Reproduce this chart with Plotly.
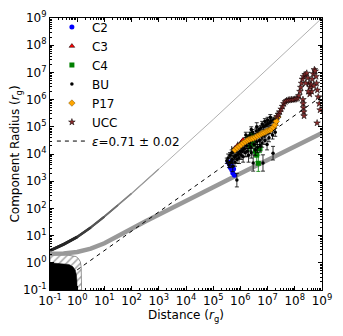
import numpy as np
import plotly.graph_objects as go

# ---- data (log10 of distance / radius in r_g) ----
c2_logx = [5.55, 5.60, 5.63, 5.66, 5.68, 5.70, 5.72, 5.75, 5.78]
c2_logy = [3.70, 3.62, 3.50, 3.72, 3.42, 3.55, 3.30, 3.45, 3.22]

c3_logx = [5.80, 5.88, 5.95, 6.00, 6.05, 6.10]
c3_logy = [4.22, 4.30, 4.25, 4.38, 4.45, 4.52]
c3_xerr = [0.12, 0.00, 0.00, 0.10, 0.00, 0.00]

c4_logx = [6.29, 6.35, 6.41, 6.47, 6.55, 6.60, 6.66, 6.72]
c4_logy = [4.58, 4.27, 4.70, 4.39, 4.10, 3.96, 3.66, 4.20]
c4_yerr = [0.10, 0.15, 0.10, 0.12, 0.20, 0.25, 0.30, 0.15]

bu_logx = [5.50, 5.55, 5.58, 5.62, 5.65, 5.68, 5.70, 5.72, 5.75, 5.78, 5.80, 5.83,
           5.85, 5.87, 5.88, 5.90, 5.93, 5.95, 5.98, 6.00, 6.03, 6.05, 6.08, 6.10,
           6.13, 6.15, 6.18, 6.20, 6.23, 6.25, 6.28, 6.30, 6.33, 6.35, 6.38, 6.40,
           6.43, 6.45, 6.47, 6.50, 6.53, 6.55, 6.58, 6.60, 6.63, 6.65, 6.68, 6.70,
           6.73, 6.75, 6.78, 6.80, 6.83, 6.85, 6.88, 6.90, 6.93, 6.95, 6.98, 7.00,
           7.03, 7.05, 7.08, 7.10, 7.13, 7.15, 7.18, 7.20, 7.22, 7.25, 7.28, 7.30,
           7.33, 7.36, 7.40, 6.20, 6.40, 6.60, 6.80, 6.90, 7.00, 7.10]
bu_logy = [3.75, 3.85, 3.60, 3.95, 3.70, 4.05, 3.80, 3.55, 4.10, 3.90, 3.70, 4.15,
           3.95, 3.04, 3.80, 4.20, 4.00, 3.85, 4.30, 4.10, 3.95, 4.35, 4.15, 3.90,
           4.40, 4.20, 4.05, 4.50, 4.30, 4.10, 4.60, 3.95, 4.40, 4.70, 4.25, 4.05,
           4.55, 4.80, 3.67, 4.35, 4.65, 4.15, 4.85, 4.45, 4.25, 4.75, 4.90, 4.50,
           4.30, 4.95, 4.65, 4.40, 3.67, 5.00, 4.70, 4.50, 5.05, 4.80, 4.35, 5.10,
           4.90, 4.60, 5.15, 4.85, 5.20, 4.95, 4.70, 4.03, 5.25, 5.05, 4.80, 5.30,
           5.15, 5.40, 5.45, 4.70, 4.90, 5.00, 5.10, 5.20, 5.25, 5.35]
bu_yerr = [0.10, 0.15, 0.10, 0.10, 0.20, 0.10, 0.15, 0.20, 0.10, 0.10, 0.15, 0.10,
           0.10, 0.25, 0.15, 0.10, 0.10, 0.20, 0.10, 0.10, 0.15, 0.10, 0.10, 0.20,
           0.10, 0.10, 0.15, 0.10, 0.10, 0.20, 0.10, 0.25, 0.10, 0.10, 0.15, 0.20,
           0.10, 0.10, 0.30, 0.15, 0.10, 0.20, 0.10, 0.10, 0.20, 0.10, 0.10, 0.15,
           0.20, 0.10, 0.10, 0.15, 0.30, 0.10, 0.10, 0.15, 0.10, 0.10, 0.20, 0.10,
           0.10, 0.15, 0.10, 0.10, 0.10, 0.10, 0.15, 0.25, 0.10, 0.10, 0.15, 0.10,
           0.10, 0.10, 0.10, 0.10, 0.10, 0.15, 0.10, 0.10, 0.10, 0.10]

p17_logx = [5.80, 5.88, 5.95, 6.02, 6.10, 6.18, 6.25, 6.32, 6.40, 6.47, 6.55, 6.62,
            6.70, 6.77, 6.83, 6.90, 6.97, 7.03, 7.09, 7.15, 7.21, 7.27, 7.32, 7.38]
p17_logy = [4.15, 4.22, 4.28, 4.33, 4.40, 4.45, 4.50, 4.53, 4.56, 4.58, 4.62, 4.66,
            4.70, 4.74, 4.77, 4.80, 4.84, 4.86, 4.88, 4.92, 4.98, 5.07, 5.20, 5.36]

ucc_logx = [7.35, 7.40, 7.45, 7.50, 7.55, 7.60, 7.65, 7.70, 7.76, 7.82, 7.88, 7.94,
            8.00, 8.05, 8.10, 8.15, 8.19, 8.22, 8.25, 8.28, 8.32, 8.38, 8.44, 8.48,
            8.52, 8.56, 8.60, 8.64, 8.68, 8.72, 8.75, 8.78, 8.80, 8.83, 8.86, 8.90,
            8.93, 8.30, 8.31, 8.32, 8.33, 8.34, 8.55, 8.62, 8.70, 8.82, 8.50, 8.40]
ucc_logy = [5.37, 5.45, 5.55, 5.65, 5.75, 5.85, 5.92, 5.96, 5.98, 5.99, 6.00, 6.00,
            6.01, 6.03, 6.05, 6.15, 6.30, 6.45, 6.60, 6.75, 6.85, 6.92, 6.97, 6.80,
            6.60, 6.45, 6.55, 6.75, 6.95, 7.10, 7.05, 6.85, 6.60, 6.35, 6.10, 5.85,
            5.62, 6.00, 5.85, 5.70, 5.55, 5.40, 6.20, 6.30, 6.50, 5.14, 6.30, 6.60]

# fitted power law, epsilon = 0.71 (end points)
fit_x = [1.0, 1.0e9]
fit_y = [0.55, 1.35e6]

# thin curve (darker near the black hole)
thin_logx = [-1.0, -0.5, 0.0, 0.5, 1.0, 1.5, 2.0, 3.0, 4.0, 5.0, 6.0, 7.0, 8.0, 9.0]
thin_logy = [0.45, 0.68, 0.95, 1.30, 1.70, 2.12, 2.55, 3.45, 4.35, 5.27, 6.20, 7.13, 8.07, 9.00]

# thick grey curve
thick_logx = [-1.0, -0.5, 0.0, 0.5, 1.0, 1.5, 2.0, 2.5, 3.0, 4.0, 5.0, 6.0, 7.0, 8.0, 9.0]
thick_logy = [0.33, 0.34, 0.40, 0.52, 0.72, 0.97, 1.25, 1.52, 1.78, 2.28, 2.78, 3.28, 3.78, 4.28, 4.77]

# black hole and hatched (ergosphere) outlines
bh_x = [0.1, 0.1, 0.5, 0.7, 0.85, 0.93, 0.97, 0.99, 1.0, 0.1]
bh_y = [0.1, 1.0, 0.87, 0.71, 0.53, 0.37, 0.24, 0.14, 0.1, 0.1]
ergo_x = [0.1, 0.1, 0.4, 0.7, 0.9, 1.1, 1.3, 1.4, 1.44, 1.45, 0.1]
ergo_y = [0.1, 2.0, 1.95, 1.85, 1.7, 1.45, 1.1, 0.7, 0.35, 0.1, 0.1]


def p10(a):
    return np.power(10.0, np.asarray(a, dtype=float))


def dex_err(logy, dex):
    y = p10(logy)
    d = np.asarray(dex, dtype=float)
    return y * (np.power(10.0, d) - 1), y * (1 - np.power(10.0, -d))


fig = go.Figure()

fig.add_trace(go.Scatter(
    x=ergo_x, y=ergo_y, mode="lines", fill="toself", line=dict(color="#777", width=0.8),
    fillcolor="white",
    fillpattern=dict(shape="/", fgcolor="#555", bgcolor="white", size=5, solidity=0.3),
    showlegend=False, hoverinfo="skip"))
fig.add_trace(go.Scatter(
    x=bh_x, y=bh_y, mode="lines", fill="toself", line=dict(color="black", width=0.5),
    fillcolor="black", showlegend=False, hoverinfo="skip"))

# thin curve, darker and wider close to the black hole
tx, ty = p10(thin_logx), p10(thin_logy)
fade = [(14, "#b0b0b0", 1.0), (8, "#999999", 1.2), (7, "#858585", 1.5), (6, "#6e6e6e", 1.8),
        (5, "#555555", 2.2), (4, "#3c3c3c", 2.6), (3, "#262626", 3.0)]
for n, col, w in fade:
    fig.add_trace(go.Scatter(x=tx[:n], y=ty[:n], mode="lines", line=dict(color=col, width=w),
                             showlegend=False, hoverinfo="skip"))

fig.add_trace(go.Scatter(x=p10(thick_logx), y=p10(thick_logy), mode="lines",
                         line=dict(color="#999999", width=4.5), showlegend=False, hoverinfo="skip"))

# data
bu_up, bu_dn = dex_err(bu_logy, bu_yerr)
c4_up, c4_dn = dex_err(c4_logy, c4_yerr)
c3x = p10(c3_logx)
c3_xup = c3x * (p10(c3_xerr) - 1)
c3_xdn = c3x * (1 - p10(-np.asarray(c3_xerr)))

fig.add_trace(go.Scatter(
    x=p10(c2_logx), y=p10(c2_logy), mode="markers", name="C2",
    marker=dict(symbol="circle", color="#0000ff", size=5, line=dict(width=0))))
fig.add_trace(go.Scatter(
    x=c3x, y=p10(c3_logy), mode="markers", name="C3",
    error_x=dict(type="data", array=c3_xup, arrayminus=c3_xdn, color="black", thickness=0.8, width=2),
    marker=dict(symbol="triangle-up", color="#ff0000", size=5, line=dict(width=0.5, color="black"))))
fig.add_trace(go.Scatter(
    x=p10(c4_logx), y=p10(c4_logy), mode="markers", name="C4",
    error_y=dict(type="data", array=c4_up, arrayminus=c4_dn, color="#008000", thickness=0.8, width=2),
    marker=dict(symbol="square", color="#008000", size=5, line=dict(width=0))))
fig.add_trace(go.Scatter(
    x=p10(bu_logx), y=p10(bu_logy), mode="markers", name="BU",
    error_y=dict(type="data", array=bu_up, arrayminus=bu_dn, color="black", thickness=0.8, width=2),
    marker=dict(symbol="circle", color="black", size=3.5, line=dict(width=0))))
fig.add_trace(go.Scatter(
    x=p10(p17_logx), y=p10(p17_logy), mode="markers", name="P17",
    marker=dict(symbol="diamond", color="#ffa500", size=5, line=dict(width=0.5, color="#7a5000"))))
fig.add_trace(go.Scatter(
    x=p10(ucc_logx), y=p10(ucc_logy), mode="markers", name="UCC",
    marker=dict(symbol="star", color="#8b2c2c", size=5, line=dict(width=0.5, color="black"))))
fig.add_trace(go.Scatter(
    x=fit_x, y=fit_y, mode="lines", name="<i>ε</i>=0.71 ± 0.02",
    line=dict(color="black", width=1, dash="4px,4px")))

major = [10.0 ** e for e in range(-1, 10)]
labels = ["10<sup>%d</sup>" % e for e in range(-1, 10)]
minor = [m * 10.0 ** e for e in range(-1, 9) for m in range(2, 10)]

axis_style = dict(
    type="log", range=[-1, 9], tickvals=major, ticktext=labels,
    ticks="inside", ticklen=4, tickcolor="black", showline=True, linecolor="black",
    linewidth=1, mirror="allticks", showgrid=False, zeroline=False, automargin=False,
    tickfont=dict(family="DejaVu Sans", size=12, color="black"),
    minor=dict(tickvals=minor, ticks="inside", ticklen=2, tickcolor="black", showgrid=False),
)

fig.update_xaxes(**axis_style, title=dict(text="Distance (<i>r</i><sub>g</sub>)", standoff=0,
                                         font=dict(family="DejaVu Sans", size=12, color="black")))
fig.update_yaxes(**axis_style, title=dict(text="Component Radius (<i>r</i><sub>g</sub>)", standoff=0,
                                         font=dict(family="DejaVu Sans", size=12, color="black")))

fig.update_layout(
    width=343, height=336, margin=dict(l=50, r=21, t=18, b=46),
    paper_bgcolor="white", plot_bgcolor="white",
    font=dict(family="DejaVu Sans", size=12, color="black"),
    legend=dict(x=0.007, y=1.02, xanchor="left", yanchor="top", bgcolor="rgba(0,0,0,0)",
                font=dict(family="DejaVu Sans", size=12), tracegroupgap=0),
)

fig.write_html("out.html", config={"displayModeBar": False},
               post_script="document.body.style.margin='0';")
